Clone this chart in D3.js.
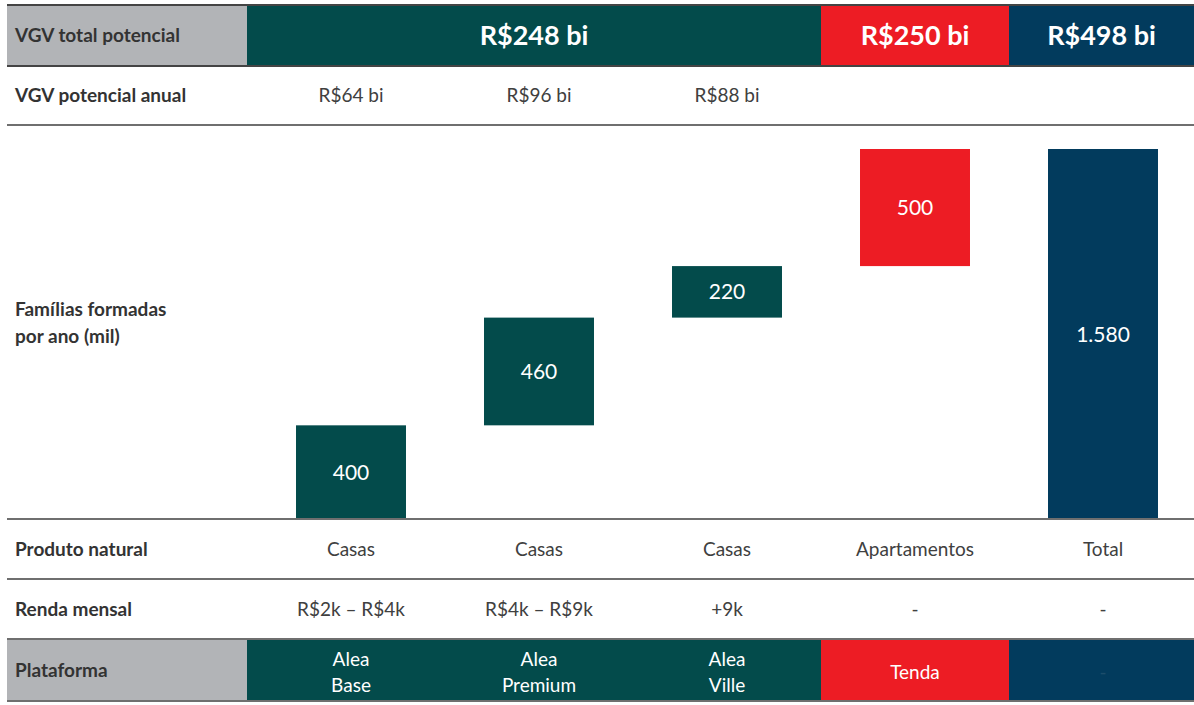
<!DOCTYPE html>
<html>
  <head>
    <meta charset="utf-8" />
    <title>Famílias formadas por ano</title>
    <script src="https://d3js.org/d3.v7.min.js"></script>
    <style>
        body { margin:0; background:#fff; }
        text { font-family: Lato, "Open Sans", sans-serif; }
    </style>
  </head>
  <body>
    <svg id="viz"></svg>

    <script>
    // data
    var categories = ["Alea Base", "Alea Premium", "Alea Ville", "Tenda", "Total"];
    var familias = [400, 460, 220, 500, 1580];
    var isTotal = [false, false, false, false, true];
    var vgvAnual = ["R$64 bi", "R$96 bi", "R$88 bi", "", ""];
    var produto = ["Casas", "Casas", "Casas", "Apartamentos", "Total"];
    var renda = ["R$2k – R$4k", "R$4k – R$9k", "+9k", "-", "-"];
    var plataforma = [["Alea", "Base"], ["Alea", "Premium"], ["Alea", "Ville"], ["Tenda"], ["-"]];
    var groupLabels = ["R$248 bi", "R$250 bi", "R$498 bi"];
    var groupStart = [0, 3, 4];
    var groupEnd = [2, 3, 4];
    var rowLabels = ["VGV total potencial", "VGV potencial anual", "Famílias formadas|por ano (mil)",
                     "Produto natural", "Renda mensal", "Plataforma"];

    var width = 1194, height = 705;
    var green = "#034b4b", red = "#ed1c24", navy = "#023b5d", grey = "#b2b4b7";
    var colors = [green, green, green, red, navy];
    var groupColors = [green, red, navy];

    var svg = d3.select("#viz").attr("width", width).attr("height", height);

    var labelRight = 247;
    var x = d3.scaleBand().domain(categories).range([257, 1197]).paddingInner(0.415).paddingOuter(0.2075);
    var step = x.step();
    function cellLeft(i) { return i === 0 ? labelRight : x(categories[i]) - step * x.paddingInner() / 2; }
    function cellRight(i) { return i === categories.length - 1 ? width : x(categories[i]) + x.bandwidth() + step * x.paddingInner() / 2; }

    var y = d3.scaleLinear().domain([0, 1580]).range([519, 149]);

    // row bands: [top, bottom]
    var rows = [[6, 65], [66, 125], [126, 519], [520, 579], [580, 639], [640, 700]];

    // header & plataforma coloured rows
    [0, 5].forEach(function(r) {
      svg.append("rect").attr("x", 7).attr("y", rows[r][0]).attr("width", labelRight - 7)
        .attr("height", rows[r][1] - rows[r][0]).attr("fill", grey);
    });

    svg.selectAll(".grp").data(groupLabels).enter().append("rect")
      .attr("x", function(d, i) { return cellLeft(groupStart[i]); })
      .attr("y", rows[0][0])
      .attr("width", function(d, i) { return cellRight(groupEnd[i]) - cellLeft(groupStart[i]); })
      .attr("height", rows[0][1] - rows[0][0])
      .attr("fill", function(d, i) { return groupColors[i]; });

    svg.selectAll(".grpTxt").data(groupLabels).enter().append("text")
      .attr("x", function(d, i) { return (cellLeft(groupStart[i]) + cellRight(groupEnd[i])) / 2; })
      .attr("y", (rows[0][0] + rows[0][1]) / 2)
      .attr("dy", "0.36em").attr("text-anchor", "middle")
      .attr("fill", "#fff").attr("font-size", 27).attr("font-weight", "bold")
      .text(function(d) { return d; });

    svg.selectAll(".plat").data(categories).enter().append("rect")
      .attr("x", function(d, i) { return cellLeft(i); })
      .attr("y", rows[5][0])
      .attr("width", function(d, i) { return cellRight(i) - cellLeft(i); })
      .attr("height", rows[5][1] - rows[5][0])
      .attr("fill", function(d, i) { return colors[i]; });

    // plataforma text
    plataforma.forEach(function(lines, i) {
      var t = svg.append("text")
        .attr("x", x(categories[i]) + x.bandwidth() / 2)
        .attr("y", (rows[5][0] + rows[5][1]) / 2 + 2 - (lines.length - 1) * 13)
        .attr("text-anchor", "middle").attr("font-size", 19)
        .attr("fill", i === 4 ? "#1c4d6b" : "#fff");
      lines.forEach(function(l, j) {
        t.append("tspan").attr("x", x(categories[i]) + x.bandwidth() / 2)
          .attr("dy", j === 0 ? "0.36em" : 26).text(l);
      });
    });

    // waterfall bars
    var start = 0;
    var bars = familias.map(function(v, i) {
      var b = isTotal[i] ? { lo: 0, hi: v } : { lo: start, hi: start + v };
      if (!isTotal[i]) start += v;
      return b;
    });

    svg.selectAll(".bar").data(bars).enter().append("rect")
      .attr("x", function(d, i) { return x(categories[i]); })
      .attr("y", function(d) { return y(d.hi); })
      .attr("width", x.bandwidth())
      .attr("height", function(d) { return y(d.lo) - y(d.hi); })
      .attr("fill", function(d, i) { return colors[i]; });

    svg.selectAll(".barTxt").data(bars).enter().append("text")
      .attr("x", function(d, i) { return x(categories[i]) + x.bandwidth() / 2; })
      .attr("y", function(d) { return (y(d.lo) + y(d.hi)) / 2; })
      .attr("dy", "0.36em").attr("text-anchor", "middle")
      .attr("fill", "#fff").attr("font-size", 21)
      .text(function(d, i) { return d3.format(",")(familias[i]).replace(",", "."); });

    // row values
    function rowText(arr, r) {
      svg.selectAll(null).data(arr).enter().append("text")
        .attr("x", function(d, i) { return x(categories[i]) + x.bandwidth() / 2; })
        .attr("y", (rows[r][0] + rows[r][1]) / 2)
        .attr("dy", "0.36em").attr("text-anchor", "middle")
        .attr("fill", "#404040").attr("font-size", 19)
        .text(function(d) { return d; });
    }
    rowText(vgvAnual, 1);
    rowText(produto, 3);
    rowText(renda, 4);

    // row labels
    rowLabels.forEach(function(lbl, r) {
      var parts = lbl.split("|");
      var t = svg.append("text").attr("x", 15)
        .attr("y", (rows[r][0] + rows[r][1]) / 2 - (parts.length - 1) * 13)
        .attr("font-size", 19).attr("font-weight", "bold").attr("fill", "#333");
      parts.forEach(function(p, j) {
        t.append("tspan").attr("x", 15).attr("dy", j === 0 ? "0.36em" : 27).text(p);
      });
    });

    // separator lines
    var lineYs = [5, 66, 125, 519, 579, 639, 701];
    svg.selectAll(".sep").data(lineYs).enter().append("line")
      .attr("x1", 7).attr("x2", width)
      .attr("y1", function(d) { return d; }).attr("y2", function(d) { return d; })
      .attr("stroke", function(d, i) { return i === 0 || i === 1 ? "#444" : "#6f6f6f"; })
      .attr("stroke-width", 2);
    </script>
  </body>
</html>
